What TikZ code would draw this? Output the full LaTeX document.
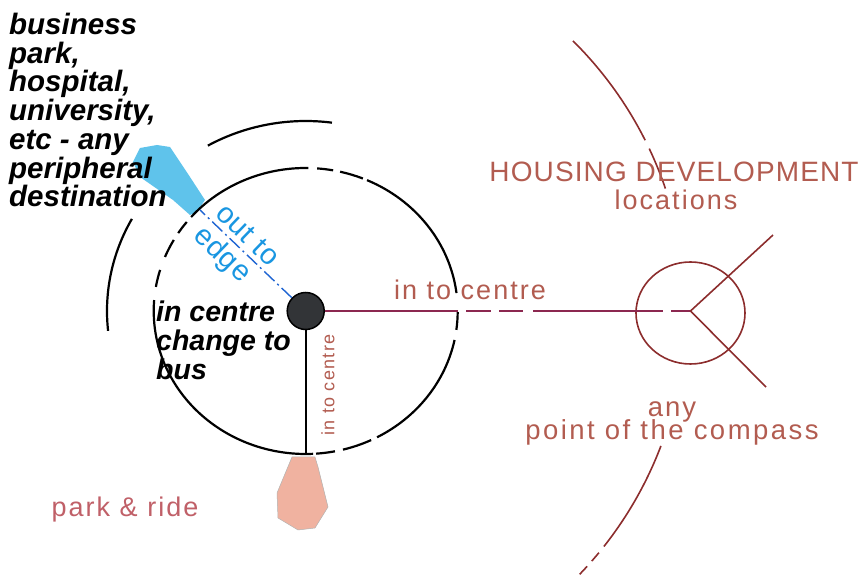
\documentclass[tikz,border=0pt]{standalone}
\usepackage{fontspec}
\setmainfont{Liberation Sans}
\newfontfamily\lab[LetterSpace=7.5]{Liberation Sans}
\newfontfamily\labwide[LetterSpace=9]{Liberation Sans}
\newfontfamily\labcaps[LetterSpace=4]{Liberation Sans}
\newfontfamily\bluefont[LetterSpace=3]{Liberation Sans}
\usetikzlibrary{shapes.geometric}
\definecolor{brownt}{RGB}{178,92,80}
\definecolor{pinkt}{RGB}{192,96,104}
\definecolor{maroonl}{RGB}{140,45,45}
\definecolor{linep}{RGB}{140,40,80}
\definecolor{blued}{RGB}{30,100,210}
\definecolor{bluet}{RGB}{25,150,225}
\definecolor{blobblue}{RGB}{95,195,235}
\definecolor{peach}{RGB}{240,178,160}
\definecolor{hubgray}{RGB}{50,52,55}
\newcommand{\arcpiece}[5]{\draw[#1] (C) ++(#2:#4 and #5) arc[start angle=#2, end angle=#3, x radius=#4, y radius=#5];}
\begin{document}
\begin{tikzpicture}[x=1pt,y=1pt,
  ring/.style={black, line width=2.2pt, line cap=butt},
  bigarc/.style={maroonl, line width=1.6pt},
  bigdash/.style={maroonl, line width=1.6pt, dash pattern=on 11pt off 7pt},
  hubstyle/.style={circle, draw=black, line width=1.5pt, fill=hubgray, minimum size=37pt, inner sep=0pt},
  blacktext/.style={font=\bfseries\itshape\fontsize{29.5}{28.7}\selectfont, align=left, inner sep=0pt},
  browntext/.style={text=brownt, font=\lab\fontsize{27}{28}\selectfont, inner sep=0pt},
  capstext/.style={text=brownt, font=\labcaps\fontsize{28}{28}\selectfont, inner sep=0pt}
]
\useasboundingbox (0,0) rectangle (865,578);
\coordinate (C) at (305.7,267);

% blobs
\fill[blobblue] (140,430) -- (157,433) -- (170,431) -- (190,401) -- (205,378) -- (197,366) -- (190,363) -- (173,378) -- (140,401) -- (133,416) -- cycle;
\filldraw[fill=peach, draw=gray!60, line width=0.5pt] (292,121) -- (315,121) -- (318,111) -- (328,71) -- (315,50) -- (298,48) -- (278,60) -- (277,85) -- cycle;

% main ring
\arcpiece{ring}{89}{138.9}{152}{143}
\arcpiece{ring}{175.6}{272.8}{152}{143}
\arcpiece{ring}{298}{348.3}{152}{143}
\arcpiece{ring}{7.2}{66.2}{152}{143}
\arcpiece{ring}{141.5}{147}{152}{143}
\arcpiece{ring}{150.2}{157.8}{152}{143}
\arcpiece{ring}{163.3}{170.3}{152}{143}
\arcpiece{ring}{273.9}{281.1}{152}{143}
\arcpiece{ring}{284.2}{295.5}{152}{143}
\arcpiece{ring}{352.4}{359.6}{152}{143}
\arcpiece{ring}{67.9}{76.9}{152}{143}
\arcpiece{ring}{79.6}{85.7}{152}{143}
% outer ring arcs
\arcpiece{ring}{82.4}{119.5}{198.7}{190}
\arcpiece{ring}{151}{186}{198.7}{190}
% big maroon arcs
\arcpiece{bigarc}{26.7}{45.3}{380}{380}
\arcpiece{bigarc}{18.8}{25.3}{380}{380}
\arcpiece{bigarc}{-20.8}{-38.3}{380}{380}
\arcpiece{bigdash}{-39.5}{-46.1}{380}{380}

% hub and connectors
\node[hubstyle] (hub) at (C) {};
\coordinate (edgept) at (200,368);
\coordinate (prtop) at (305.7,124);
\coordinate (V) at (690.5,267);
\coordinate (ne) at (773,343);
\coordinate (se) at (766,191);
\node[draw=maroonl, line width=1.6pt, ellipse, minimum width=109pt, minimum height=102pt, inner sep=0pt] (loc) at (690.5,265) {};
\draw[blued, line width=1.4pt, dash pattern=on 14pt off 4pt on 2pt off 4pt] (hub) -- (edgept);
\draw[black, line width=2pt] (hub.south) -- (prtop);
\draw[linep, line width=2pt, dash pattern=on 133.3pt off 8pt on 25pt off 8pt on 24pt off 10pt on 130pt off 8pt on 20.5pt] (hub.east) -- (V);
\draw[maroonl, line width=1.6pt] (ne) -- (V) -- (se);

% texts
\node[blacktext, anchor=north west] (dest) at (9,565) {business\\park,\\hospital,\\university,\\etc - any\\peripheral\\destination};
\node[blacktext, font=\bfseries\itshape\fontsize{28.5}{29}\selectfont, anchor=north west] (chg) at (156,277) {in centre\\change to\\bus};
\node[text=bluet, font=\bluefont\fontsize{29}{31}\selectfont, align=left, inner sep=0pt, rotate=-44] (out) at (235,330) {out to\\edge};
\node[browntext, anchor=base] (inlab) at (470,278) {in to centre};
\node[browntext, font=\lab\fontsize{18}{18}\selectfont, rotate=90] (vlab) at (328,193) {in to centre};
\node[capstext, anchor=base] (hd) at (674,396) {HOUSING DEVELOPMENT};
\node[browntext, anchor=base] (locs) at (676,368) {locations};
\node[browntext, font=\lab\fontsize{27.5}{28}\selectfont, anchor=base] (any) at (672,161) {any};
\node[browntext, font=\labwide\fontsize{27.5}{28}\selectfont, anchor=base] (compass) at (672,138) {point of the compass};
\node[browntext, text=pinkt, anchor=base] (pr) at (125,61) {park \& ride};
\end{tikzpicture}
\end{document}
